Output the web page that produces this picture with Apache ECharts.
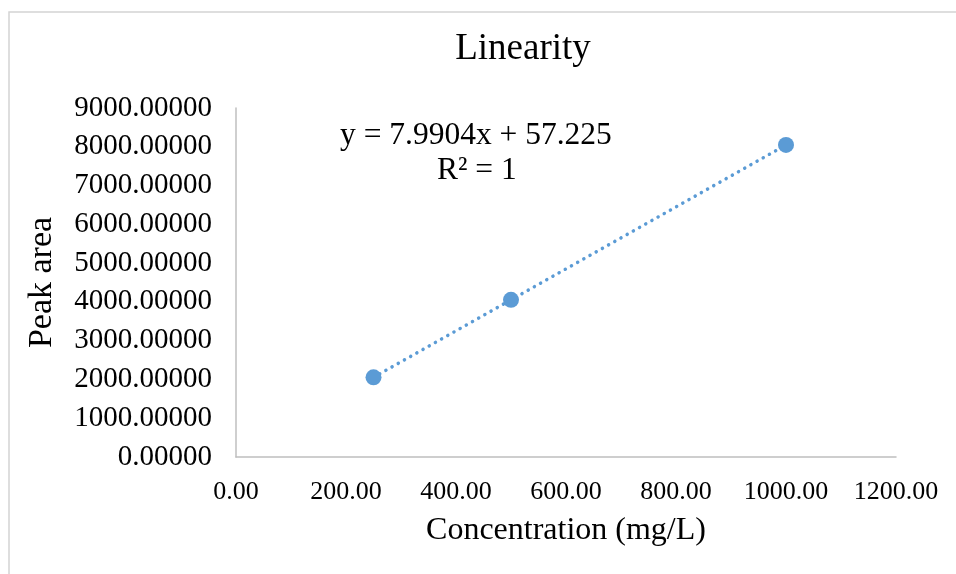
<!DOCTYPE html>
<html><head><meta charset="utf-8">
<script src="https://cdn.jsdelivr.net/npm/echarts@6/dist/echarts.min.js"></script>
<style>html,body{margin:0;padding:0;background:#fff}#c{width:956px;height:574px}</style>
</head><body><div id="c"></div>
<script>
const concentrations = [250, 500, 1000];
const peakAreas = [2055, 4052, 8047];
const trendSlope = 7.9904;
const trendIntercept = 57.225;
const equationText = 'y = 7.9904x + 57.225';
const r2Text = 'R² = 1';

const pts = concentrations.map((c, i) => [c, peakAreas[i]]);
const trendX = [concentrations[0], concentrations[concentrations.length - 1]];
const trend = trendX.map(x => [x, trendSlope * x + trendIntercept]);
const serif = '"Liberation Serif", "Times New Roman", serif';
const chart = echarts.init(document.getElementById('c'));
chart.setOption({
  animation: false,
  backgroundColor: '#fff',
  title: {text: 'Linearity', left: 518, top: 26, textAlign: 'center',
    textStyle: {fontFamily: serif, fontSize: 37, fontWeight: 'normal', color: '#000'}},
  grid: {left: 236, right: 60, top: 108, bottom: 117},
  xAxis: {type: 'value', min: 0, max: 1200, interval: 200,
    name: 'Concentration (mg/L)', nameLocation: 'middle', nameGap: 58,
    nameTextStyle: {fontFamily: serif, fontSize: 32, color: '#000'},
    axisLine: {lineStyle: {color: '#bfbfbf', width: 1.5}}, axisTick: {show: false},
    splitLine: {show: false},
    axisLabel: {fontFamily: serif, fontSize: 26, color: '#000', margin: 22, formatter: v => v.toFixed(2)}},
  yAxis: {type: 'value', min: 0, max: 9000, interval: 1000,
    name: 'Peak area', nameLocation: 'middle', nameGap: 177, nameRotate: 90,
    nameTextStyle: {fontFamily: serif, fontSize: 34, color: '#000'},
    axisLine: {show: true, lineStyle: {color: '#bfbfbf', width: 1.5}}, axisTick: {show: false},
    splitLine: {show: false},
    axisLabel: {fontFamily: serif, fontSize: 29, color: '#000', margin: 24, formatter: v => v.toFixed(5)}},
  graphic: [
    {type: 'rect', shape: {x: 9, y: 12, width: 1000, height: 600}, style: {fill: 'none', stroke: '#d4d4d4', lineWidth: 1.5}, silent: true},
    {type: 'text', left: 340, top: 120, style: {text: equationText, font: '31.5px ' + serif, fill: '#000'}},
    {type: 'text', left: 437, top: 155, style: {text: r2Text, font: '31.5px ' + serif, fill: '#000'}}
  ],
  series: [
    {type: 'line', data: trend, symbol: 'none', lineStyle: {color: '#5B9BD5', width: 3.5, type: [0.1, 7], cap: 'round'}, z: 2},
    {type: 'scatter', data: pts, symbol: 'circle', symbolSize: 16, itemStyle: {color: '#5B9BD5', opacity: 1}, z: 3}
  ]
});
</script></body></html>
